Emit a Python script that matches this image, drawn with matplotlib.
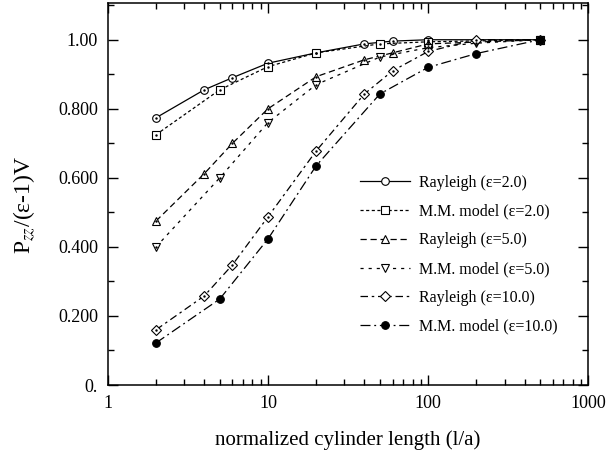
import matplotlib.pyplot as plt
from matplotlib.ticker import FixedLocator, LogLocator, NullFormatter, MultipleLocator

plt.rcParams['font.family'] = ['Liberation Serif', 'DejaVu Serif']
plt.rcParams['mathtext.fontset'] = 'stix'

# normalized cylinder length l/a
ray2_x = [2, 4, 6, 10, 20, 40, 60, 100, 500]
ray2_y = [0.774, 0.855, 0.890, 0.932, 0.962, 0.988, 0.996, 1.000, 1.000]

mm2_x = [2, 5, 10, 20, 50, 100, 500]
mm2_y = [0.725, 0.855, 0.922, 0.962, 0.988, 0.994, 1.000]

ray5_x = [2, 4, 6, 10, 20, 40, 60, 100, 500]
ray5_y = [0.475, 0.612, 0.700, 0.800, 0.893, 0.942, 0.962, 0.988, 1.000]

mm5_x = [2, 5, 10, 20, 50, 100, 200, 500]
mm5_y = [0.400, 0.600, 0.760, 0.870, 0.950, 0.977, 0.990, 1.000]

ray10_x = [2, 4, 6, 10, 20, 40, 60, 100, 200, 500]
ray10_y = [0.160, 0.258, 0.348, 0.487, 0.678, 0.843, 0.910, 0.966, 1.000, 1.000]

mm10_x = [2, 5, 10, 20, 50, 100, 200, 500]
mm10_y = [0.122, 0.249, 0.423, 0.635, 0.843, 0.920, 0.960, 1.000]

fig = plt.figure(figsize=(6.16, 4.65), dpi=100)
ax = fig.add_axes([0.175, 0.172, 0.78, 0.822])

ms = 5.5
ax.plot(ray2_x, ray2_y, color='black', lw=0.9, ls='-', marker='o', mfc='white', ms=ms,
        mew=0.8, label='Rayleigh (ε=2.0)')
ax.plot(mm2_x, mm2_y, color='black', lw=0.9, ls=(0, (2.5, 2)), marker='s', mfc='white', ms=ms,
        mew=0.8, label='M.M. model (ε=2.0)')
ax.plot(ray5_x, ray5_y, color='black', lw=0.9, ls=(0, (5, 3)), marker='^', mfc='white', ms=ms + 0.5,
        mew=0.8, label='Rayleigh (ε=5.0)')
ax.plot(mm5_x, mm5_y, color='black', lw=0.9, ls=(0, (2.5, 4)), marker='v', mfc='white', ms=ms + 0.5,
        mew=0.8, label='M.M. model (ε=5.0)')
ax.plot(ray10_x, ray10_y, color='black', lw=0.9, ls=(0, (6, 3, 2, 3)), marker='D', mfc='white', ms=ms - 0.5,
        mew=0.8, label='Rayleigh (ε=10.0)')
ax.plot(mm10_x, mm10_y, color='black', lw=0.9, ls=(0, (8, 3, 1.5, 3)), marker='o', mfc='black', ms=ms,
        mew=0.8, label='M.M. model (ε=10.0)')

# tiny centre dots inside the open markers
for xs, ys in [(ray2_x, ray2_y), (mm2_x, mm2_y), (ray5_x, ray5_y), (mm5_x, mm5_y), (ray10_x, ray10_y)]:
    ax.plot(xs, ys, ls='none', marker='.', ms=1.5, color='black')

ax.set_xscale('log')
ax.set_xlim(1, 1000)
ax.set_ylim(0, 1.107)

ax.set_xticks([1, 10, 100, 1000])
ax.set_xticklabels(['1', '10', '100', '1000'])
ax.xaxis.set_minor_locator(LogLocator(base=10, subs=range(2, 10)))
ax.xaxis.set_minor_formatter(NullFormatter())

ax.yaxis.set_major_locator(FixedLocator([0, 0.2, 0.4, 0.6, 0.8, 1.0]))
ax.set_yticklabels(['0.', '0.200', '0.400', '0.600', '0.800', '1.00'])
ax.yaxis.set_minor_locator(MultipleLocator(0.1))

ax.tick_params(which='both', direction='in', top=True, right=True, labelsize=13, width=1)
ax.tick_params(which='major', length=7, pad=7)
ax.tick_params(which='minor', length=4)
for s in ax.spines.values():
    s.set_linewidth(1.1)

ax.set_xlabel('normalized cylinder length (l/a)', fontsize=15, labelpad=13)
ax.set_ylabel(r'P$_{zz}$/(ε-1)V', fontsize=17)
ax.yaxis.set_label_coords(-0.148, 0.47)

leg = ax.legend(loc='upper left', bbox_to_anchor=(0.525, 0.55), frameon=False, fontsize=11.5,
                handlelength=3.1, labelspacing=0.8, handletextpad=0.6,
                borderpad=0, borderaxespad=0)

fig.savefig('out.png', dpi=100)
